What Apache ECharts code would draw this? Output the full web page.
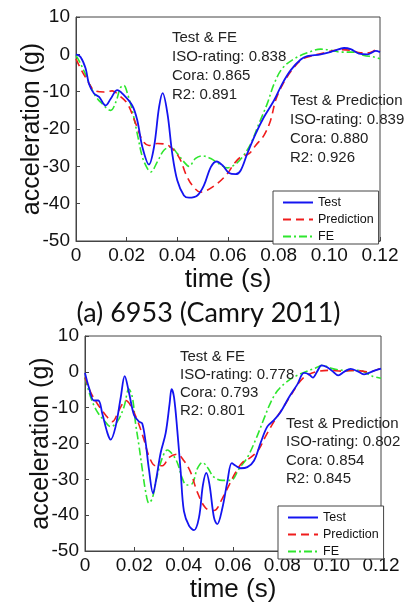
<!DOCTYPE html>
<html><head><meta charset="utf-8">
<script src="https://cdn.jsdelivr.net/npm/echarts@6/dist/echarts.min.js"></script>
<style>html,body{margin:0;padding:0;background:#fff}#c{width:417px;height:604px}</style>
</head><body><div id="c"></div>
<script>
// ---- tick labels ----
const xTickLabels = ['0', '0.02', '0.04', '0.06', '0.08', '0.10', '0.12'];
const yTickValues = [-50, -40, -30, -20, -10, 0, 10];
const seriesNames = ['Test', 'Prediction', 'FE'];

// ---- top chart (times in ms) ----
const topTestT = [0,1.8,3.8,5.1,7.1,9.1,11.7,13.7,16.3,18.3,22.2,24.2,26.2,28.8,30.8,32.8,34.2,36.1,38.0,40.0,42.6,44.6,47.9,50.5,53.2,55.5,57.8,60.4,63.0,65.0,67.6,70.9,74.2,78.2,81.4,84.7,88.7,91.3,96.6,101.8,105.8,108.4,111.7,115.0,118.3,120];
const topTestV = [0,-0.7,-3.8,-7.9,-10.5,-11.4,-13.7,-11.9,-9.6,-10.5,-13.7,-17.7,-24.8,-29.5,-24.8,-14.1,-10.4,-15.9,-26.6,-33.8,-37.8,-38.4,-37.8,-35.1,-30.2,-28.7,-29.7,-31.8,-32.1,-31.1,-26.6,-21.3,-16.8,-12.3,-7.9,-4.3,-1.4,-0.5,0,0.9,1.7,1.4,0.2,0,0.9,0.6];
const topPredT = [0,1.8,4.5,7.1,11.1,14.3,17.0,20.3,23.6,26.2,28.8,32.1,35.4,38.7,41.3,43.3,45.9,49.2,51.8,55.8,59.7,62.4,65.0,68.3,70.9,74.2,76.8,78.8,81.4,84.7,88.7,92.6,97.9,104.5,108.4,112.4,115.7,119,120];
const topPredV = [-1.2,-3.8,-7,-9.6,-10.1,-9.8,-11,-13.2,-18.6,-23,-24.4,-23.9,-24.1,-25.7,-28.4,-32,-35.1,-36.9,-36.4,-34.6,-32,-29.3,-27.5,-26.6,-24.4,-21.7,-17.7,-12.3,-8.3,-4.7,-1.6,-0.5,0.4,1.25,1.1,0.4,0.4,1.25,1.0];
const topFeT = [0,1.8,4.5,7.1,9.7,13.7,15.7,17.6,18.9,20.3,22.2,24.2,26.2,28.2,29.5,32.1,34.7,37.4,40.0,42.6,44.6,47.2,49.9,53.2,56.4,59.7,62.4,65.7,69.0,72.2,75.5,78.2,81.4,86.1,91.3,96.6,100.5,104.5,109.7,113.7,117.6,120];
const topFeV = [-0.3,-2.5,-6.5,-10.5,-12.8,-15,-12.8,-8.9,-8.3,-10.5,-15,-21.3,-27.5,-30.6,-31.5,-28.8,-25.7,-24.8,-26.6,-28.8,-30,-27.9,-27.2,-27.9,-29.3,-30.4,-29.7,-27.5,-23.9,-18.6,-13.2,-7.9,-3.8,-1.2,0.4,1.4,1.1,0.6,0.6,-0.3,-0.7,-1.2];

// ---- bottom chart (times in ms) ----
const botTestT = [0,1.6,3.6,5.4,7.0,9.1,10.4,12.4,14.5,16.1,17.8,19.9,21.9,23.2,24.6,25.9,27.6,28.9,30.7,32.7,34.3,35.1,36.1,37.4,38.8,40.1,42.2,44.2,46.2,47.8,49.2,50.5,52.3,53.6,55.7,57.7,59.5,61.1,63.1,65.8,68.5,71.2,73.9,76.6,79.3,82.7,86.1,88.8,90.8,92.4,94.2,95.9,98.2,100.3,102.7,105,107.7,110.4,113.1,115.1,117.6,120];
const botTestV = [-0.3,-4.4,-8,-8,-11.6,-17.1,-18.9,-15.3,-7.1,-1.2,-5.7,-12.1,-13.9,-14.4,-19.8,-27.1,-33.9,-29.8,-22.5,-17.1,-8.9,-4.8,-7.1,-16.2,-28,-38.9,-43,-44.2,-40.7,-31.6,-28.2,-31.6,-40.7,-42.5,-38,-30.7,-25.5,-26.2,-26.9,-26.6,-24.8,-19.8,-15.3,-13.5,-11.2,-7.1,-3.5,-0.3,-0.7,-1.6,0.2,1.8,1.3,0.2,-1,0,0.8,0.2,-0.7,-0.3,0.4,0.9];
const botPredT = [0,2.3,5.0,8.4,11.1,13.8,16.5,18.5,21.2,23.9,25.9,28.6,31.4,34.1,37.4,40.1,42.8,45.5,48.9,52.3,55.7,58.4,61.1,63.8,67.2,70.5,73.2,76.6,80,83.4,86.8,89.5,93.5,98.9,104.3,109.7,115.1,120];
const botPredV = [-1.6,-5.7,-8.9,-12.1,-13.9,-10.7,-8,-9.4,-13.5,-18.9,-23.5,-26.2,-26.2,-23.9,-23,-24.8,-28,-33.5,-38,-38.7,-35.3,-31.6,-28,-25.3,-23.9,-21.6,-18,-13.9,-10.3,-6.6,-3,-1.2,0,0.4,0.2,0.4,0,1.1];
const botFeT = [0,2.3,5.0,7.7,10.4,13.1,15.8,17.8,19.2,20.5,21.9,23.2,24.6,25.9,27.3,29.3,31.4,33.4,35.4,37.4,39.5,41.1,43.5,45.5,47.6,49.6,52.3,55.7,59.1,62.4,65.8,69.2,72.6,75.3,78,81.4,85.4,89.5,93.5,96.2,100.3,105.7,111.1,116.5,120];
const botFeV = [-1.6,-7.1,-11.2,-13.5,-15.3,-13.9,-9.8,-4.8,-7.1,-14.4,-20.7,-27.1,-33.5,-36.6,-35.3,-28.9,-23.9,-21.8,-23,-25.3,-29.8,-31.6,-31.2,-27.1,-25.3,-26.6,-29.4,-30.3,-30.3,-27.1,-23.9,-18.9,-13,-8.5,-5.3,-3,-1.2,0,1.1,1.8,0.9,0.4,0.4,-1.2,-1.8];

// ---- annotation / caption texts ----
const topNoteFE = ['Test & FE', 'ISO-rating: 0.838', 'Cora: 0.865', 'R2: 0.891'];
const topNotePred = ['Test & Prediction', 'ISO-rating: 0.839', 'Cora: 0.880', 'R2: 0.926'];
const botNoteFE = ['Test & FE', 'ISO-rating: 0.778', 'Cora: 0.793', 'R2: 0.801'];
const botNotePred = ['Test & Prediction', 'ISO-rating: 0.802', 'Cora: 0.854', 'R2: 0.845'];
const caption = '(a) 6953 (Camry 2011)';

// ---- build ----
const FONT = 'Liberation Sans, Arial, sans-serif';
const pairs = (t, v) => t.map((x, i) => [x / 1000, v[i]]);
const styles = [
  { color: '#1414f0', width: 1.8, type: 'solid' },
  { color: '#f01c1c', width: 1.6, type: [8, 5] },
  { color: '#2ee62e', width: 1.6, type: [8, 3, 2, 3] }
];
function mkSeries(name, data, idx, si) {
  const s = styles[si];
  return {
    type: 'line', name, data, xAxisIndex: idx, yAxisIndex: idx,
    symbol: 'none', smooth: 0.35, z: 3 - si,
    lineStyle: { color: s.color, width: s.width, type: s.type },
    itemStyle: { color: s.color }
  };
}
function xAx(idx) {
  return {
    gridIndex: idx, type: 'value', min: 0, max: 0.12, interval: 0.02,
    name: 'time (s)', nameLocation: 'middle', nameGap: 26, nameMoveOverlap: false,
    nameTextStyle: { fontFamily: FONT, fontSize: 26, color: '#111' },
    axisLine: { show: true, onZero: false, lineStyle: { color: '#444', width: 1 } },
    axisTick: { show: true, inside: true, length: 4, lineStyle: { color: '#444' } },
    axisLabel: { fontFamily: FONT, fontSize: 19, color: '#111', margin: 5,
      formatter: v => xTickLabels[Math.round(v / 0.02)] },
    splitLine: { show: false }
  };
}
function yAx(idx) {
  return {
    gridIndex: idx, type: 'value', min: -50, max: 10, interval: 10,
    name: 'acceleration (g)', nameLocation: 'middle', nameGap: 31, nameMoveOverlap: false,
    nameTextStyle: { fontFamily: FONT, fontSize: 25, color: '#111' },
    axisLine: { show: true, onZero: false, lineStyle: { color: '#444', width: 1 } },
    axisTick: { show: true, inside: true, length: 4, lineStyle: { color: '#444' } },
    axisLabel: { fontFamily: FONT, fontSize: 19, color: '#111', margin: 6,
      formatter: v => String(yTickValues[Math.round((v + 50) / 10)]) },
    splitLine: { show: false }
  };
}
function legend(left, top) {
  return {
    orient: 'vertical', left, top, itemWidth: 30, itemHeight: 14, itemGap: 4,
    padding: [5, 5, 1, 9], backgroundColor: '#fff', borderColor: '#444', borderWidth: 1, borderRadius: 0,
    textStyle: { fontFamily: FONT, fontSize: 12.5, color: '#111' },
    itemStyle: { opacity: 0, borderWidth: 0 },
    data: seriesNames, selectedMode: false
  };
}
function note(lines, left, top, lh) {
  return { type: 'text', left, top, z: 10,
    style: { text: lines.join('\n'), font: '15px ' + FONT, lineHeight: lh, fill: '#222' } };
}

const option = {
  animation: false,
  backgroundColor: '#fff',
  grid: [
    { left: 76, top: 17, width: 304, height: 224, show: true, borderColor: '#444', borderWidth: 1 },
    { left: 85, top: 336, width: 296, height: 220, show: true, borderColor: '#444', borderWidth: 1 }
  ],
  xAxis: [xAx(0), xAx(1)],
  yAxis: [yAx(0), yAx(1)],
  legend: [legend(273, 191), legend(278, 506)],
  series: [
    mkSeries('Test', pairs(topTestT, topTestV), 0, 0),
    mkSeries('Prediction', pairs(topPredT, topPredV), 0, 1),
    mkSeries('FE', pairs(topFeT, topFeV), 0, 2),
    mkSeries('Test', pairs(botTestT, botTestV), 1, 0),
    mkSeries('Prediction', pairs(botPredT, botPredV), 1, 1),
    mkSeries('FE', pairs(botFeT, botFeV), 1, 2)
  ],
  graphic: [
    note(topNoteFE, 172, 29, 18.7),
    note(topNotePred, 290, 92, 18.7),
    note(botNoteFE, 180, 348, 18),
    note(botNotePred, 286, 415, 18.2),
    { type: 'text', left: 'center', top: 300, z: 10,
      style: { text: caption, font: '27px Lato, "Open Sans", sans-serif', fill: '#111' } }
  ]
};
echarts.init(document.getElementById('c'), null, { renderer: 'canvas' }).setOption(option);
</script></body></html>
